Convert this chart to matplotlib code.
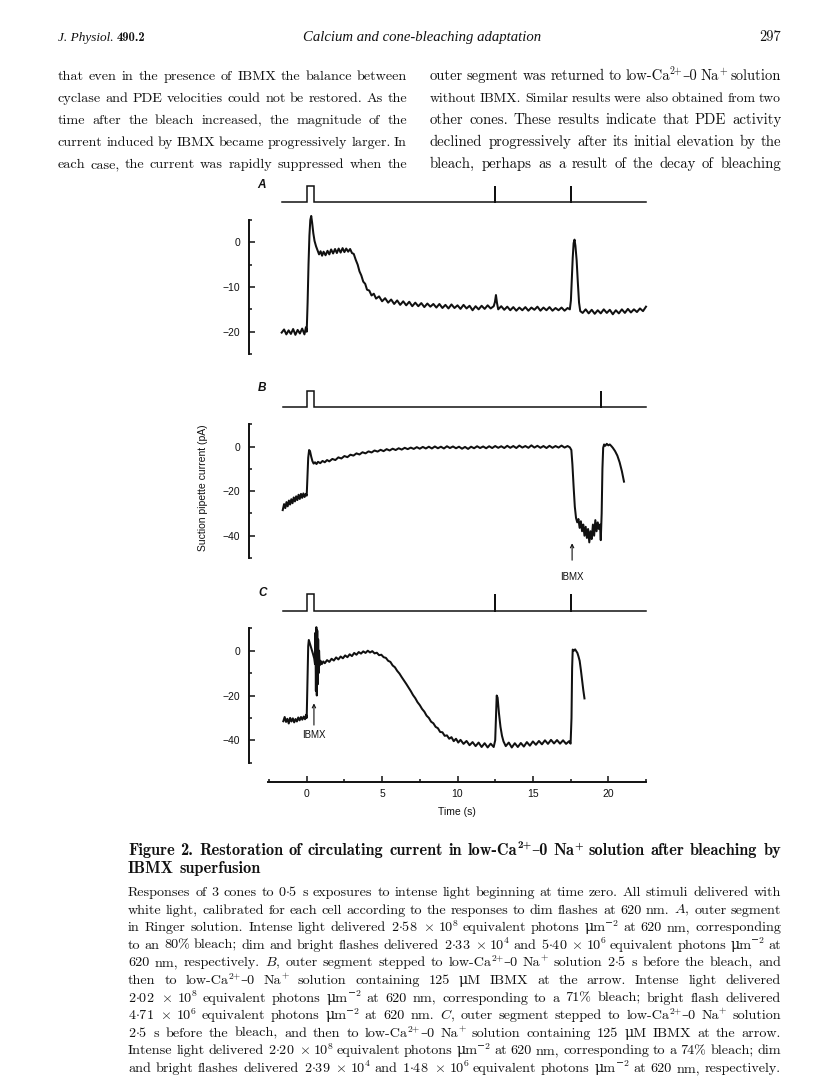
import re
import numpy as np
import matplotlib
matplotlib.use('Agg')
import matplotlib.pyplot as plt
from matplotlib.ticker import FixedLocator, FixedFormatter

plt.rcParams['mathtext.fontset'] = 'cm'
plt.rcParams['axes.unicode_minus'] = True

# ---------------------------------------------------------------- data
pulse = (0.0, 0.5)                      # intense-light step (s)
flashes_A = [12.5, 17.5]
flashes_B = [19.5]
flashes_C = [12.5, 17.5]
stim_start = {'A': -1.66, 'B': -1.59, 'C': -1.55}
stim_end = 22.5

trace_A = [(-1.66,-20.2),(-1.5,-19.5),(-1.35,-20.6),(-1.2,-19.7),(-1.05,-20.5),(-0.9,-19.4),(-0.75,-20.7),
 (-0.6,-19.6),(-0.45,-20.4),(-0.3,-19.3),(-0.15,-20.6),(-0.05,-19.0),(0.0,-20.0),(0.06,-13.5),(0.12,-5.0),
 (0.18,1.5),(0.24,5.0),(0.3,5.9),(0.36,4.4),(0.44,2.0),(0.52,0.3),(0.62,-0.9),(0.72,-1.8),(0.82,-2.7),
 (0.92,-2.0),(1.02,-3.0),(1.12,-2.1),(1.25,-2.9),(1.38,-1.9),(1.5,-2.7),(1.62,-1.6),(1.75,-2.5),(1.88,-1.5),
 (2.0,-2.4),(2.12,-1.4),(2.25,-2.3),(2.38,-1.3),(2.5,-2.2),(2.62,-1.4),(2.75,-2.1),(2.88,-1.5),(3.0,-2.4),
 (3.12,-2.6),(3.25,-3.9),(3.38,-5.0),(3.5,-6.5),(3.62,-7.4),(3.75,-8.8),(3.88,-9.3),(4.0,-10.6),(4.15,-10.8),
 (4.3,-11.9),(4.45,-11.5),(4.6,-12.6),(4.8,-12.1),(5.0,-13.2),(5.2,-12.5),(5.4,-13.5),(5.6,-12.8),(5.8,-13.8),
 (6.0,-13.0),(6.2,-14.0),(6.4,-13.2),(6.6,-14.1),(6.8,-13.3),(7.0,-14.3),(7.2,-13.5),(7.4,-14.3),(7.6,-13.6),
 (7.8,-14.5),(8.0,-13.7),(8.2,-14.4),(8.4,-13.8),(8.6,-14.6),(8.8,-13.8),(9.0,-14.7),(9.2,-14.0),(9.4,-14.8),
 (9.6,-13.9),(9.8,-14.7),(10.0,-14.1),(10.2,-14.9),(10.4,-14.0),(10.6,-14.8),(10.8,-14.2),(11.0,-15.2),
 (11.2,-14.3),(11.4,-15.0),(11.6,-14.2),(11.8,-14.9),(12.0,-14.1),(12.2,-14.8),(12.4,-14.3),(12.48,-13.4),
 (12.55,-11.8),(12.62,-13.6),(12.7,-15.0),(12.9,-14.3),(13.1,-15.1),(13.3,-14.4),(13.5,-15.2),(13.7,-14.5),
 (13.9,-15.3),(14.1,-14.6),(14.3,-15.2),(14.5,-14.5),(14.7,-15.3),(14.9,-14.6),(15.1,-15.1),(15.3,-14.4),
 (15.5,-15.3),(15.7,-14.6),(15.9,-15.2),(16.1,-14.5),(16.3,-15.3),(16.5,-14.7),(16.7,-15.2),(16.9,-14.6),
 (17.1,-15.3),(17.3,-14.7),(17.45,-15.0),(17.52,-13.0),(17.58,-8.5),(17.64,-3.5),(17.7,-0.2),(17.76,0.6),
 (17.82,-0.8),(17.9,-4.0),(17.98,-9.0),(18.06,-13.5),(18.14,-15.4),(18.3,-15.8),(18.5,-15.0),(18.7,-15.9),
 (18.9,-15.1),(19.1,-16.0),(19.3,-15.2),(19.5,-15.9),(19.7,-15.0),(19.9,-15.8),(20.1,-15.1),(20.3,-16.1),
 (20.5,-15.2),(20.7,-15.9),(20.9,-15.0),(21.1,-15.8),(21.3,-14.9),(21.5,-15.7),(21.7,-15.0),(21.9,-15.6),
 (22.1,-14.8),(22.3,-15.4),(22.5,-14.4)]

trace_B = [(-1.59,-28.5),(-1.5,-25.8),(-1.42,-27.6),(-1.34,-24.9),(-1.26,-26.8),(-1.18,-24.2),(-1.1,-26.0),
 (-1.02,-23.6),(-0.94,-25.4),(-0.86,-22.8),(-0.78,-24.6),(-0.7,-22.3),(-0.62,-24.0),(-0.54,-21.6),(-0.46,-23.5),
 (-0.38,-21.2),(-0.3,-23.0),(-0.22,-21.0),(-0.14,-22.6),(-0.06,-21.2),(0.0,-22.0),(0.05,-14.0),(0.1,-5.0),
 (0.16,-1.5),(0.22,-2.0),(0.3,-4.5),(0.38,-6.5),(0.46,-7.6),(0.55,-7.0),(0.65,-7.8),(0.75,-6.8),(0.9,-7.4),
 (1.05,-6.4),(1.2,-7.0),(1.35,-6.0),(1.5,-6.6),(1.7,-5.5),(1.9,-6.0),(2.1,-4.8),(2.3,-5.3),(2.5,-4.2),(2.7,-4.7),
 (2.9,-3.6),(3.1,-4.0),(3.3,-3.0),(3.5,-3.5),(3.7,-2.5),(3.9,-3.0),(4.1,-2.1),(4.3,-2.6),(4.5,-1.7),(4.7,-2.2),
 (4.9,-1.4),(5.1,-2.0),(5.3,-1.1),(5.5,-1.7),(5.7,-0.9),(5.9,-1.5),(6.1,-0.7),(6.3,-1.3),(6.5,-0.5),(6.7,-1.1),
 (6.9,-0.4),(7.1,-1.0),(7.3,-0.2),(7.5,-0.9),(7.7,-0.1),(7.9,-0.8),(8.1,0.0),(8.3,-0.8),(8.5,0.1),(8.7,-0.7),
 (8.9,0.0),(9.1,-0.8),(9.3,0.2),(9.5,-0.6),(9.7,0.1),(9.9,-0.7),(10.1,0.0),(10.3,-0.9),(10.5,-0.1),(10.7,-1.0),
 (10.9,0.0),(11.1,-0.7),(11.3,0.2),(11.5,-0.6),(11.7,0.1),(11.9,-0.7),(12.1,0.2),(12.3,-0.6),(12.5,0.3),
 (12.7,-0.5),(12.9,0.2),(13.1,-0.6),(13.3,0.4),(13.5,-0.5),(13.7,0.3),(13.9,-0.6),(14.1,0.5),(14.3,-0.4),
 (14.5,0.3),(14.7,-0.5),(14.9,0.6),(15.1,-0.4),(15.3,0.4),(15.5,-0.5),(15.7,0.3),(15.9,-0.6),(16.1,0.4),
 (16.3,-0.5),(16.5,0.3),(16.7,-0.4),(16.9,0.5),(17.1,-0.4),(17.3,0.3),(17.45,-0.3),(17.55,-1.5),(17.62,-8.0),
 (17.7,-18.0),(17.78,-27.0),(17.86,-32.0),(17.94,-34.0),(18.02,-32.5),(18.1,-36.5),(18.18,-33.5),(18.26,-38.0),
 (18.34,-35.0),(18.42,-40.0),(18.5,-36.0),(18.58,-41.0),(18.66,-37.0),(18.74,-43.0),(18.82,-38.0),(18.9,-41.5),
 (18.98,-35.0),(19.06,-40.0),(19.14,-33.0),(19.22,-38.0),(19.3,-34.0),(19.38,-37.0),(19.45,-35.0),(19.5,-42.0),
 (19.56,-30.0),(19.61,-10.0),(19.66,-0.5),(19.72,1.0),(19.8,0.4),(19.9,1.3),(20.0,0.6),(20.1,1.0),(20.2,0.3),
 (20.3,-0.5),(20.45,-2.0),(20.6,-4.0),(20.75,-7.0),(20.9,-11.0),(21.04,-15.7)]

trace_C = [(-1.55,-31.5),(-1.46,-29.6),(-1.37,-31.8),(-1.28,-30.4),(-1.19,-32.5),(-1.1,-30.0),(-1.01,-31.6),
 (-0.92,-30.2),(-0.83,-32.0),(-0.74,-30.5),(-0.65,-31.6),(-0.56,-29.8),(-0.47,-31.1),(-0.38,-29.6),(-0.29,-30.8),
 (-0.2,-29.4),(-0.11,-30.6),(-0.04,-28.6),(0.0,-30.0),(0.05,-15.0),(0.1,2.0),(0.14,4.8),(0.22,3.0),(0.32,0.6),
 (0.42,-1.5),(0.5,-3.5),(0.55,-6.0),(0.58,8.0),(0.61,-18.0),(0.64,10.5),(0.67,-20.0),(0.7,9.0),(0.73,-15.0),
 (0.76,5.0),(0.79,-10.0),(0.82,0.0),(0.86,-6.5),(0.92,-4.5),(1.0,-6.0),(1.1,-4.8),(1.2,-5.6),(1.35,-4.2),
 (1.5,-5.0),(1.65,-3.6),(1.8,-4.4),(1.95,-3.0),(2.1,-3.9),(2.25,-2.6),(2.4,-3.4),(2.55,-2.1),(2.7,-2.9),
 (2.85,-1.6),(3.0,-2.4),(3.15,-1.0),(3.3,-1.8),(3.45,-0.6),(3.6,-1.3),(3.75,-0.3),(3.9,-1.0),(4.05,0.0),
 (4.2,-0.8),(4.35,-0.2),(4.5,-1.2),(4.65,-0.9),(4.8,-2.0),(4.95,-1.8),(5.1,-2.9),(5.25,-3.2),(5.4,-4.5),
 (5.55,-5.0),(5.7,-6.6),(5.85,-7.4),(6.0,-9.0),(6.15,-10.2),(6.3,-11.8),(6.45,-13.3),(6.6,-14.8),(6.75,-16.4),
 (6.9,-18.0),(7.05,-19.8),(7.2,-21.2),(7.35,-23.0),(7.5,-24.3),(7.65,-26.0),(7.8,-27.2),(7.95,-29.0),(8.1,-30.0),
 (8.25,-31.7),(8.4,-32.4),(8.55,-34.0),(8.7,-34.6),(8.85,-36.3),(9.0,-36.4),(9.15,-38.0),(9.3,-37.8),(9.45,-39.3),
 (9.6,-38.6),(9.75,-40.4),(9.9,-39.3),(10.05,-41.0),(10.2,-39.8),(10.4,-41.6),(10.6,-40.3),(10.8,-42.2),
 (11.0,-40.8),(11.2,-42.6),(11.4,-41.0),(11.6,-43.0),(11.8,-41.3),(12.0,-43.2),(12.2,-41.5),(12.4,-43.0),
 (12.5,-40.0),(12.55,-30.0),(12.6,-20.0),(12.66,-21.0),(12.75,-28.0),(12.85,-34.0),(12.95,-38.0),(13.05,-40.5),
 (13.2,-42.6),(13.4,-41.0),(13.6,-43.2),(13.8,-41.3),(14.0,-43.0),(14.2,-41.2),(14.4,-42.8),(14.6,-40.8),
 (14.8,-42.4),(15.0,-40.5),(15.2,-42.0),(15.4,-40.3),(15.6,-41.8),(15.8,-40.0),(16.0,-41.6),(16.2,-39.8),
 (16.4,-41.4),(16.6,-39.9),(16.8,-41.5),(17.0,-40.0),(17.2,-41.6),(17.4,-40.4),(17.5,-41.5),(17.56,-30.0),
 (17.6,-8.0),(17.64,0.5),(17.72,0.0),(17.8,0.6),(17.88,-0.3),(17.95,-1.0),(18.02,-2.5),(18.1,-4.5),(18.18,-8.5),
 (18.26,-13.0),(18.34,-17.5),(18.42,-21.3)]

ibmx_B = (17.6, -43.4, -51.0, -58.4)    # time, arrow head, arrow tail, label (pA)
ibmx_C = (0.48, -23.5, -33.2, -37.8)

yticks_A = [0, -10, -20];  yminor_A = [5, -5, -15, -25]
yticks_BC = [0, -20, -40]; yminor_BC = [10, -10, -30, -50]
time_ticks = [0, 5, 10, 15, 20]
time_minor = [-2.5, 2.5, 7.5, 12.5, 17.5, 22.5]

header_left = 'J. Physiol.'
header_vol = '490.2'
header_title = 'Calcium and cone-bleaching adaptation'
header_page = '297'

# "^{...}" marks a superscript in the page text below
body_left = ['that even in the presence of IBMX the balance between',
             'cyclase and PDE velocities could not be restored. As the',
             'time after the bleach increased, the magnitude of the',
             'current induced by IBMX became progressively larger. In',
             'each case, the current was rapidly suppressed when the']
body_right = ['outer segment was returned to low-Ca^{2+}\u20130 Na^{+} solution',
              'without IBMX. Similar results were also obtained from two',
              'other cones. These results indicate that PDE activity',
              'declined progressively after its initial elevation by the',
              'bleach, perhaps as a result of the decay of bleaching']

cap_title = ['Figure 2. Restoration of circulating current in low-Ca^{2+}\u20130 Na^{+} solution after bleaching by',
             'IBMX superfusion']
cap_body = [
 'Responses of 3 cones to 0\u00b75 s exposures to intense light beginning at time zero. All stimuli delivered with',
 'white light, calibrated for each cell according to the responses to dim flashes at 620 nm. $A$, outer segment',
 'in Ringer solution. Intense light delivered 2\u00b758 \u00d7 10^{8} equivalent photons \u03bcm^{\u22122} at 620 nm, corresponding',
 'to an 80% bleach; dim and bright flashes delivered 2\u00b733 \u00d7 10^{4} and 5\u00b740 \u00d7 10^{6} equivalent photons \u03bcm^{\u22122} at',
 '620 nm, respectively. $B$, outer segment stepped to low-Ca^{2+}\u20130 Na^{+} solution 2\u00b75 s before the bleach, and',
 'then to low-Ca^{2+}\u20130 Na^{+} solution containing 125 \u03bcM IBMX at the arrow. Intense light delivered',
 '2\u00b702 \u00d7 10^{8} equivalent photons \u03bcm^{\u22122} at 620 nm, corresponding to a 71% bleach; bright flash delivered',
 '4\u00b771 \u00d7 10^{6} equivalent photons \u03bcm^{\u22122} at 620 nm. $C$, outer segment stepped to low-Ca^{2+}\u20130 Na^{+} solution',
 '2\u00b75 s before the bleach, and then to low-Ca^{2+}\u20130 Na^{+} solution containing 125 \u03bcM IBMX at the arrow.',
 'Intense light delivered 2\u00b720 \u00d7 10^{8} equivalent photons \u03bcm^{\u22122} at 620 nm, corresponding to a 74% bleach; dim',
 'and bright flashes delivered 2\u00b739 \u00d7 10^{4} and 1\u00b748 \u00d7 10^{6} equivalent photons \u03bcm^{\u22122} at 620 nm, respectively.']

# ---------------------------------------------------------------- layout helpers
W, H, DPI = 816, 1088, 100
fig = plt.figure(figsize=(W / DPI, H / DPI), dpi=DPI)
fig.patch.set_facecolor('white')
renderer = fig.canvas.get_renderer()
INK = '#111111'
SANS = ['Liberation Sans', 'DejaVu Sans']
SERIF = ['cmr10', 'DejaVu Serif']
SERIF_B = ['cmb10', 'DejaVu Serif']
PT = DPI / 72.0
SUP_RE = re.compile(r'\^\{([^}]*)\}')
SUP_SCALE, SUP_RAISE = 0.68, 0.40

X0PX, PXS = 306.7, 15.08          # time-axis placement on page
XL = (-3.80, 22.6)


def ax_px(l, t, r, b):
    a = fig.add_axes([l / W, 1 - b / H, (r - l) / W, (b - t) / H])
    a.patch.set_visible(False)
    return a


def xpx(t):
    return X0PX + PXS * t


def trace_axes(zero_px, ppu, ylim):
    top = zero_px - ylim[1] * ppu
    bot = zero_px - ylim[0] * ppu
    a = ax_px(xpx(XL[0]), top, xpx(XL[1]), bot)
    a.set_xlim(XL)
    a.set_ylim(ylim)
    for s in ('top', 'right', 'bottom'):
        a.spines[s].set_visible(False)
    a.set_xticks([])
    return a


def style_y(a, major, minor, bounds):
    a.spines['left'].set_bounds(*bounds)
    a.spines['left'].set_linewidth(1.4)
    a.spines['left'].set_color(INK)
    a.yaxis.set_major_locator(FixedLocator(major))
    a.yaxis.set_major_formatter(FixedFormatter([str(v).replace('-', '\u2212') for v in major]))
    a.yaxis.set_minor_locator(FixedLocator(minor))
    a.tick_params(axis='y', which='major', direction='in', length=4.3, width=1.1, color=INK,
                  labelsize=7.5, pad=6.5, labelcolor=INK)
    a.tick_params(axis='y', which='minor', direction='in', length=2.4, width=1.1, color=INK)
    for lab in a.get_yticklabels():
        lab.set_family(SANS)


def stim_axes(base_px, top_px, start, flashes):
    u = base_px - top_px
    a = ax_px(xpx(XL[0]), top_px - 0.3 * u, xpx(XL[1]), base_px + 0.3 * u)
    a.set_xlim(XL)
    a.set_ylim(-0.3, 1.3)
    a.axis('off')
    xs = [start, pulse[0], pulse[0], pulse[1], pulse[1]]
    ys = [0, 0, 1, 1, 0]
    for f in flashes:
        xs += [f, f, f]
        ys += [0, 1, 0]
    xs.append(stim_end)
    ys.append(0)
    a.plot(xs, ys, color=INK, lw=1.1, solid_joinstyle='miter')
    return a


def plot_trace(a, data):
    t, i = zip(*data)
    a.plot(t, i, color=INK, lw=1.45, solid_joinstyle='round', clip_on=False)


def ibmx_arrow(a, spec):
    t, head, tail, lab = spec
    a.annotate('', xy=(t, head), xytext=(t, tail), annotation_clip=False,
               arrowprops=dict(arrowstyle='->', lw=0.8, color=INK, shrinkA=0, shrinkB=0,
                               mutation_scale=6))
    a.text(t, lab, 'IBMX', ha='center', va='center', fontsize=7, family=SANS, color=INK,
           clip_on=False)


def ftext(x, y, s, **kw):
    return fig.text(x / W, 1 - y / H, s, color=INK, **kw)


def fit_text(x0, x1, y, s, size0=10, **kw):
    t = ftext(x0, y, s, fontsize=size0, ha='left', va='baseline', **kw)
    w = t.get_window_extent(renderer).width
    t.set_fontsize(size0 * (x1 - x0) / w)
    return t


def to_math(txt):
    # centred decimal point and multiplication sign come from the TeX symbol font
    return txt.replace('\u00b7', r'$\cdot$').replace('\u00d7', r'$\times$')


def word_segments(word):
    segs, pos = [], 0
    for m in SUP_RE.finditer(word):
        if m.start() > pos:
            segs.append((word[pos:m.start()], False))
        segs.append((m.group(1), True))
        pos = m.end()
    if pos < len(word):
        segs.append((word[pos:], False))
    return segs


def make_word(word, y, family):
    segs = []
    for txt, sup in word_segments(word):
        s = 10 * (SUP_SCALE if sup else 1.0)
        o = ftext(0, y, to_math(txt), fontsize=s, family=family, ha='left', va='baseline')
        segs.append([o, sup, o.get_window_extent(renderer).width])
    return segs


def paragraph(lines, x0, x1, y0, dy, family, last_justified=True, space_em=0.36, min_em=0.26):
    meas = x1 - x0
    ratios, probe = [], []
    for k, ln in enumerate(lines):
        y = y0 + k * dy
        words = [make_word(w, y, family) for w in ln.split(' ')]
        wwidth = [sum(seg[2] for seg in wd) for wd in words]
        probe.append((y, words, wwidth))
        if last_justified or k < len(lines) - 1:
            nat = sum(wwidth) + (len(words) - 1) * 10 * PT * space_em
            ratios.append(meas / nat)
    size = 10 * float(np.median(ratios))
    for k, (y, words, wwidth10) in enumerate(probe):
        n = len(words)
        s_max = meas / (sum(wwidth10) / 10 + (n - 1) * PT * min_em)
        s = min(size, s_max)
        f = s / 10
        just = last_justified or k < len(lines) - 1
        fill = (meas - f * sum(wwidth10)) / max(n - 1, 1)
        if just and n > 1:
            gap = fill
        else:
            gap = min(s * PT * space_em, fill)
        x = x0
        for wd in words:
            for o, sup, w10 in wd:
                o.set_fontsize(s * (SUP_SCALE if sup else 1.0))
                o.set_x(x / W)
                if sup:
                    o.set_y(1 - (y - SUP_RAISE * s * PT) / H)
                x += w10 * f
            x += gap
    return size


# ---------------------------------------------------------------- page header & text
TEXT_L, COL_R, COL2_L, TEXT_R = 58, 407, 430, 781
hl = fit_text(TEXT_L, 114, 41, header_left, family='Liberation Serif', style='italic')
ftext(116.5, 41, header_vol, fontsize=hl.get_fontsize() * 0.95, family=SERIF_B,
      ha='left', va='baseline')
fit_text(303, 543, 41, header_title, family='Liberation Serif', style='italic')
fit_text(759, TEXT_R, 41, header_page, family=SERIF)

paragraph(body_left, TEXT_L, COL_R, 80, 22, SERIF)
paragraph(body_right, COL2_L, TEXT_R, 80, 22, SERIF)

# ---------------------------------------------------------------- panels
# A
axA = trace_axes(242.3, 4.47, (-27, 8))
style_y(axA, yticks_A, yminor_A, (-25, 5))
plot_trace(axA, trace_A)
stim_axes(202.3, 185.7, stim_start['A'], flashes_A)
ftext(261, 185, 'A', fontsize=8.5, style='italic', weight='bold', family=SANS, ha='center', va='center')

# B
axB = trace_axes(446.7, 2.225, (-53, 12))
style_y(axB, yticks_BC, yminor_BC, (-50, 10))
plot_trace(axB, trace_B)
ibmx_arrow(axB, ibmx_B)
stim_axes(407.3, 390.7, stim_start['B'], flashes_B)
ftext(262, 388, 'B', fontsize=8.5, style='italic', weight='bold', family=SANS, ha='center', va='center')

# C
axC = trace_axes(650.7, 2.24, (-53, 12))
style_y(axC, yticks_BC, yminor_BC, (-50, 10))
plot_trace(axC, trace_C)
ibmx_arrow(axC, ibmx_C)
stim_axes(611.0, 594.0, stim_start['C'], flashes_C)
ftext(263, 593, 'C', fontsize=8.5, style='italic', weight='bold', family=SANS, ha='center', va='center')

# shared y label
ftext(203, 488, 'Suction pipette current (pA)', rotation=90, ha='center', va='center',
      fontsize=7.5, family=SANS)

# time axis
axT = ax_px(xpx(XL[0]), 760, xpx(XL[1]), 781.7)
axT.set_xlim(XL)
axT.set_ylim(0, 1)
for s in ('top', 'right', 'left'):
    axT.spines[s].set_visible(False)
axT.set_yticks([])
axT.spines['bottom'].set_bounds(-2.55, 22.5)
axT.spines['bottom'].set_linewidth(1.4)
axT.spines['bottom'].set_color(INK)
axT.xaxis.set_major_locator(FixedLocator(time_ticks))
axT.xaxis.set_major_formatter(FixedFormatter([str(v) for v in time_ticks]))
axT.xaxis.set_minor_locator(FixedLocator(time_minor))
axT.tick_params(axis='x', which='major', direction='in', length=4.3, width=1.1, color=INK,
                labelsize=7.5, pad=5.5, labelcolor=INK)
axT.tick_params(axis='x', which='minor', direction='in', length=2.4, width=1.1, color=INK)
for lab in axT.get_xticklabels():
    lab.set_family(SANS)
ftext(456.7, 812, 'Time (s)', ha='center', va='center', fontsize=7.5, family=SANS)

# ---------------------------------------------------------------- caption
CAP_L = 128
paragraph(cap_title, CAP_L, TEXT_R, 855, 18, SERIF_B, last_justified=False)
paragraph(cap_body, CAP_L, TEXT_R, 896, 17.6, SERIF, last_justified=False)

fig.savefig('out.png', dpi=DPI, facecolor='white')
